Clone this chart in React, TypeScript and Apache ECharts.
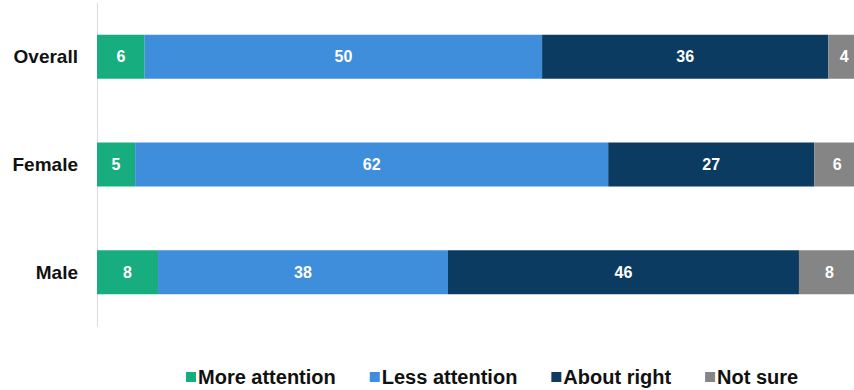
import React, { useEffect, useRef } from "react";
import * as echarts from "echarts";

const categories = ["Overall", "Female", "Male"];
const seriesNames = ["More attention", "Less attention", "About right", "Not sure"];
const moreAttention = [6, 5, 8];
const lessAttention = [50, 62, 38];
const aboutRight = [36, 27, 46];
const notSure = [4, 6, 8];
const colors = ["#17ad7f", "#3f8edc", "#0c3b62", "#858585"];

export default function App() {
  const ref = useRef<HTMLDivElement>(null);
  useEffect(() => {
    if (!ref.current) return;
    const chart = echarts.init(ref.current, undefined, { renderer: "svg" });
    const raw = [moreAttention, lessAttention, aboutRight, notSure];
    const totals = categories.map((_, i) => raw.reduce((s, arr) => s + arr[i], 0));
    chart.setOption({
      animation: false,
      textStyle: { fontFamily: "Liberation Sans, Arial, sans-serif" },
      grid: {
        left: 97,
        width: 763,
        top: 3,
        height: 323,
        containLabel: false,
        outerBoundsMode: "none",
      },
      xAxis: {
        type: "value",
        min: 0,
        max: 100,
        show: false,
      },
      yAxis: {
        type: "category",
        data: categories,
        inverse: true,
        axisLine: { show: true, lineStyle: { color: "#dcdcdc", width: 1 } },
        axisTick: { show: false },
        axisLabel: {
          color: "#111",
          fontWeight: "bold",
          fontSize: 19,
          margin: 19,
        },
      },
      legend: {
        top: 367,
        left: 186,
        padding: 0,
        itemWidth: 10,
        itemHeight: 10,
        itemGap: 34,
        icon: "rect",
        textStyle: { color: "#111", fontWeight: "bold", fontSize: 20, padding: [0, 0, 0, -3] },
        data: seriesNames,
      },
      series: seriesNames.map((name, k) => ({
        name,
        type: "bar",
        stack: "total",
        barWidth: 44,
        itemStyle: { color: colors[k] },
        label: {
          show: true,
          position: "inside",
          color: "#fff",
          fontWeight: "bold",
          fontSize: 16,
          formatter: (p: any) => String(raw[k][p.dataIndex]),
        },
        data: raw[k].map((v, i) => (v / totals[i]) * 100),
      })),
    });
    return () => chart.dispose();
  }, []);
  return (
    <div
      ref={ref}
      style={{ position: "fixed", left: 0, top: 0, width: 854, height: 390, background: "#fff" }}
    />
  );
}
